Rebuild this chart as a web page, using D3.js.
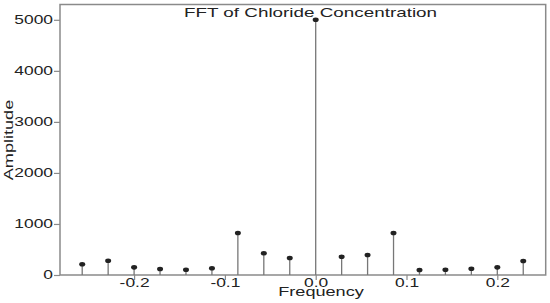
<!DOCTYPE html>
<html>
<head>
<meta charset="utf-8">
<script src="https://cdn.jsdelivr.net/npm/d3@7"></script>
<style>
  body { margin: 0; background: #fff; }
  text { font-family: "Liberation Sans", Arial, sans-serif; fill: #222; }
</style>
</head>
<body>
<svg id="chart" width="550" height="303"></svg>
<script>
// stem index k -> frequency k/35
var steps = [-9, -8, -7, -6, -5, -4, -3, -2, -1, 0, 1, 2, 3, 4, 5, 6, 7, 8];
var amplitude = [210, 280, 150, 117, 104, 131, 822, 425, 333, 5000, 358, 391, 822, 98, 104, 123, 150, 274];
var xTicks = [-0.2, -0.1, 0.0, 0.1, 0.2];
var yTicks = [0, 1000, 2000, 3000, 4000, 5000];

var svg = d3.select("#chart");
var plotL = 60, plotR = 545.7, plotT = 4.5, plotB = 275;
var stretch = 1.45; // text in the picture is wider than tall

var x = d3.scaleLinear().domain([-0.2816, 0.2533]).range([plotL, plotR]);
var y = d3.scaleLinear().domain([0, 5300]).range([plotB, plotT]);

var data = steps.map((k, i) => ({f: k / 35, a: amplitude[i]}));

// frame
svg.append("rect")
    .attr("x", plotL).attr("y", plotT)
    .attr("width", plotR - plotL).attr("height", plotB - plotT)
    .attr("fill", "none").attr("stroke", "#8a8a8a").attr("stroke-width", 1.5);

var yAxis = svg.append("g")
    .attr("transform", `translate(${plotL},0)`)
    .call(d3.axisLeft(y).tickValues(yTicks).tickSize(6).tickPadding(1).tickFormat(d3.format("d")));
yAxis.select(".domain").remove();
yAxis.selectAll("line").attr("stroke", "#8a8a8a").attr("stroke-width", 1.2);
yAxis.selectAll("text")
    .attr("font-size", 12)
    .attr("x", -7 / stretch)
    .attr("transform", `scale(${stretch},1)`)
    .style("font-family", "Liberation Sans, Arial, sans-serif");

var xAxis = svg.append("g")
    .attr("transform", `translate(0,${plotB})`)
    .call(d3.axisBottom(x).tickValues(xTicks).tickSize(5).tickPadding(-2).tickFormat(d => d.toFixed(1)));
xAxis.select(".domain").remove();
xAxis.selectAll("line").attr("stroke", "#8a8a8a").attr("stroke-width", 1.2);
xAxis.selectAll("text")
    .attr("font-size", 12)
    .attr("transform", `scale(${stretch},1)`)
    .style("font-family", "Liberation Sans, Arial, sans-serif");

// stems
svg.selectAll(".stem")
    .data(data)
    .enter()
    .append("line")
    .attr("class", "stem")
    .attr("x1", d => x(d.f)).attr("x2", d => x(d.f))
    .attr("y1", y(0)).attr("y2", d => y(d.a))
    .attr("stroke", "#777").attr("stroke-width", 1.3);

svg.selectAll(".dot")
    .data(data)
    .enter()
    .append("ellipse")
    .attr("class", "dot")
    .attr("cx", d => x(d.f)).attr("cy", d => y(d.a))
    .attr("rx", 3).attr("ry", 2.3)
    .attr("fill", "#222");

// titles
function label(txt, tx, ty, rot, size) {
    svg.append("g")
        .attr("transform", `translate(${tx},${ty}) rotate(${rot}) scale(${stretch},1)`)
        .append("text")
        .attr("text-anchor", "middle")
        .attr("font-size", size)
        .text(txt);
}
label("FFT of Chloride Concentration", 310.5, 16.5, 0, 13);
label("Frequency", 321, 296, 0, 12.5);
label("Amplitude", 13, 140, -90, 12.5);
</script>
</body>
</html>
